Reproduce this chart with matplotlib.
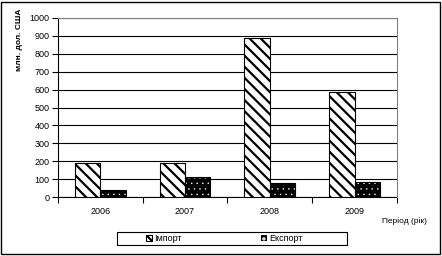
import numpy as np
import matplotlib.pyplot as plt
from matplotlib.patches import Rectangle

plt.rcParams["font.family"] = ["Liberation Sans", "DejaVu Sans"]
plt.rcParams["hatch.linewidth"] = 1.6

# дані
years = ["2006", "2007", "2008", "2009"]
import_vals = [190, 190, 890, 585]
export_vals = [42, 112, 78, 84]
y_ticks = [0, 100, 200, 300, 400, 500, 600, 700, 800, 900, 1000]

fig = plt.figure(figsize=(4.42, 2.56), dpi=100)
ax = fig.add_axes([0.131, 0.230, 0.767, 0.700])

x = np.arange(len(years))
w = 0.3

ax.bar(x - w / 2, import_vals, w, facecolor="white", edgecolor="black",
       hatch="\\\\\\", linewidth=0.8, zorder=3, label="Імпорт")
with plt.rc_context({"hatch.linewidth": 0.3}):
    ex_bars = ax.bar(x + w / 2, export_vals, w, facecolor="black", edgecolor="white",
                     hatch="...", linewidth=0, zorder=3)
    # для легенди
    ex_handle = Rectangle((0, 0), 1, 1, facecolor="black", edgecolor="white",
                          hatch="...", linewidth=0)
ax.bar(x + w / 2, export_vals, w, fill=False, edgecolor="black",
       linewidth=0.8, zorder=4)

ax.set_xlim(-0.5, len(years) - 0.5)
ax.set_ylim(0, 1000)
ax.set_yticks(y_ticks)
ax.set_xticks(x)
ax.set_xticklabels(years)
ax.set_xticks(np.arange(-0.5, len(years)), minor=True)
ax.tick_params(axis="x", which="major", length=0, labelsize=6.5, pad=7)
ax.tick_params(axis="x", which="minor", length=4, width=0.8, direction="out")
ax.tick_params(axis="y", length=4, width=0.8, labelsize=6.5, pad=2)

ax.grid(axis="y", color="black", linewidth=0.8, zorder=1)
ax.set_axisbelow(True)
for s in ["top", "right"]:
    ax.spines[s].set_color("#808080")
    ax.spines[s].set_zorder(5)
for s in ["left", "bottom"]:
    ax.spines[s].set_color("black")
    ax.spines[s].set_linewidth(0.8)

fig.text(0.043, 0.845, "млн. дол. США", rotation=90, ha="center", va="center",
         fontsize=6, fontweight="bold")
fig.text(0.914, 0.137, "Період (рік)", ha="center", va="center", fontsize=6)

handles = [ax.patches[0], ex_handle]
leg = fig.legend(handles, ["Імпорт", "Експорт"], loc="center left",
                 bbox_to_anchor=(0.330, 0.068), ncol=2, fontsize=6.5,
                 frameon=False, handlelength=0.7, handleheight=0.7,
                 handletextpad=0.2, columnspacing=8.8,
                 borderpad=0, borderaxespad=0)

# рамка легенди
fig.patches.append(Rectangle((117 / 442, 1 - 245 / 256), 230 / 442, 13 / 256,
                             transform=fig.transFigure, fill=False,
                             edgecolor="black", linewidth=0.8))
# рамка всього рисунка
fig.patches.append(Rectangle((0.003, 0.008), 0.992, 0.984, transform=fig.transFigure,
                             fill=False, edgecolor="black", linewidth=1))

fig.savefig("out.png", dpi=100)
